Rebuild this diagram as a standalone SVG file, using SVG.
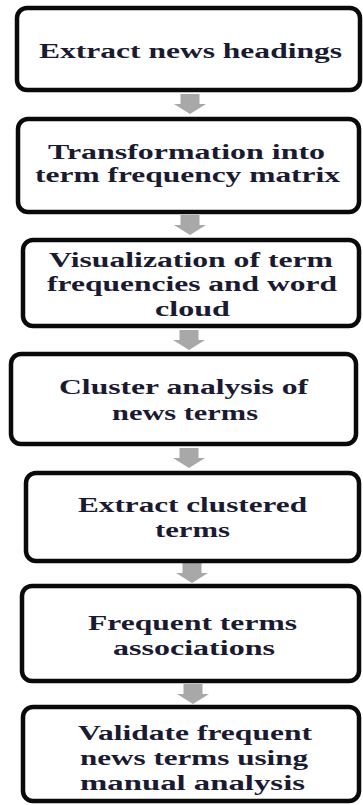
<svg xmlns="http://www.w3.org/2000/svg" xmlns:xlink="http://www.w3.org/1999/xlink" width="363" height="805" viewBox="0 0 363 805">
  <style>
    .box { fill: #ffffff; stroke: #0a0a0a; stroke-width: 4.5; }
    .label { font-family: "Liberation Serif", "Times New Roman", serif; font-weight: bold; font-size: 20.5px; fill: #1a1a30; }
    .flow { fill: #a8a8a8; }
  </style>
  <defs>
    <!-- downward block arrow, origin at the top centre of the shaft -->
    <path id="down" d="M -9.5 0 H 9.5 V 10 H 16 L 0 20 L -16 10 H -9.5 Z"/>
  </defs>
  <rect width="363" height="805" fill="#ffffff"/>

  <g id="connectors" class="flow">
    <use xlink:href="#down" x="190" y="94"/>
    <use xlink:href="#down" x="190" y="215"/>
    <use xlink:href="#down" x="189" y="330"/>
    <use xlink:href="#down" x="189" y="448"/>
    <use xlink:href="#down" x="192" y="563"/>
    <use xlink:href="#down" x="193" y="684"/>
  </g>

  <g id="extract-headings">
    <rect class="box" x="17" y="8" width="343" height="82" rx="10"/>
    <text class="label" x="39" y="58" textLength="303" lengthAdjust="spacingAndGlyphs">Extract news headings</text>
  </g>

  <g id="term-matrix">
    <rect class="box" x="18" y="119" width="341" height="93" rx="10"/>
    <text class="label" x="48" y="159" textLength="277" lengthAdjust="spacingAndGlyphs">Transformation into</text>
    <text class="label" x="35" y="182" textLength="305" lengthAdjust="spacingAndGlyphs">term frequency matrix</text>
  </g>

  <g id="visualization">
    <rect class="box" x="23" y="240" width="336" height="86" rx="10"/>
    <text class="label" x="49" y="267" textLength="284" lengthAdjust="spacingAndGlyphs">Visualization of term</text>
    <text class="label" x="47" y="291" textLength="290" lengthAdjust="spacingAndGlyphs">frequencies and word</text>
    <text class="label" x="155" y="316" textLength="75" lengthAdjust="spacingAndGlyphs">cloud</text>
  </g>

  <g id="cluster-analysis">
    <rect class="box" x="11" y="354" width="345" height="90" rx="10"/>
    <text class="label" x="59" y="394" textLength="249" lengthAdjust="spacingAndGlyphs">Cluster analysis of</text>
    <text class="label" x="112" y="420" textLength="146" lengthAdjust="spacingAndGlyphs">news terms</text>
  </g>

  <g id="extract-clustered">
    <rect class="box" x="26" y="473" width="333" height="88" rx="10"/>
    <text class="label" x="78" y="512" textLength="229" lengthAdjust="spacingAndGlyphs">Extract clustered</text>
    <text class="label" x="155" y="537" textLength="75" lengthAdjust="spacingAndGlyphs">terms</text>
  </g>

  <g id="associations">
    <rect class="box" x="22" y="586" width="337" height="95" rx="10"/>
    <text class="label" x="88" y="630" textLength="209" lengthAdjust="spacingAndGlyphs">Frequent terms</text>
    <text class="label" x="113" y="655" textLength="162" lengthAdjust="spacingAndGlyphs">associations</text>
  </g>

  <g id="validate">
    <rect class="box" x="23" y="707" width="336" height="94" rx="10"/>
    <text class="label" x="78" y="740" textLength="234" lengthAdjust="spacingAndGlyphs">Validate frequent</text>
    <text class="label" x="80" y="765" textLength="228" lengthAdjust="spacingAndGlyphs">news terms using</text>
    <text class="label" x="80" y="790" textLength="225" lengthAdjust="spacingAndGlyphs">manual  analysis</text>
  </g>
</svg>
